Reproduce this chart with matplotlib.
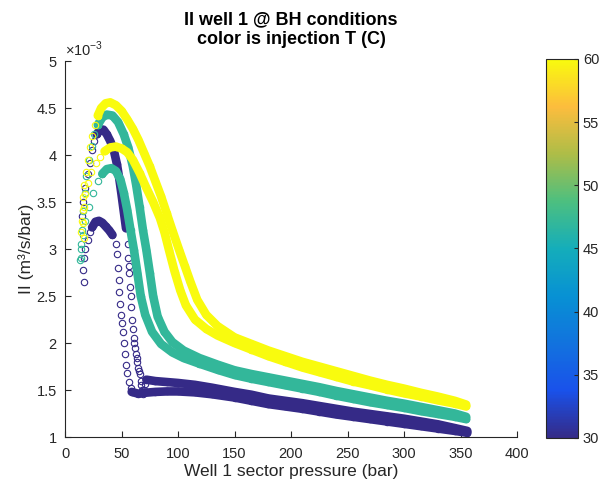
import matplotlib
matplotlib.use("Agg")
import matplotlib.pyplot as plt
from matplotlib.colors import LinearSegmentedColormap, Normalize
from matplotlib.cm import ScalarMappable

plt.rcParams['font.family'] = ['Liberation Sans', 'DejaVu Sans']
plt.rcParams['mathtext.fontset'] = 'custom'
plt.rcParams['mathtext.rm'] = 'Liberation Sans'

# injection temperatures (C)
t_blue = 30
t_teal = 47
t_yellow = 60

# --- T = 60, run A (higher peak) ---
ya_rise_x = [17, 16, 15.5, 16, 17, 18.5, 20, 22, 24, 26.5, 29]
ya_rise_y = [3.12, 3.28, 3.42, 3.55, 3.68, 3.82, 3.95, 4.08, 4.2, 4.32, 4.42]
ya_band_x = [29, 32, 36, 40, 45, 50, 55, 60, 65, 70, 75, 80, 85, 90, 95, 101, 106, 111, 117,
             125, 135, 150, 165, 180, 195, 210, 225, 240, 255, 270, 285, 300, 315, 330, 345, 355]
ya_band_y = [4.42, 4.5, 4.55, 4.56, 4.53, 4.47, 4.38, 4.28, 4.16, 4.02, 3.88, 3.72, 3.56, 3.38, 3.2,
             2.99, 2.82, 2.65, 2.46, 2.30, 2.18, 2.06, 1.99, 1.92, 1.86, 1.80, 1.75, 1.70, 1.65,
             1.60, 1.555, 1.515, 1.47, 1.43, 1.385, 1.345]

# --- T = 60, run B (lower peak) ---
yb_rise_x = [14, 15, 16.5, 18, 20, 23, 27, 31]
yb_rise_y = [3.18, 3.3, 3.45, 3.58, 3.7, 3.82, 3.92, 3.98]
yb_band_x = [35, 40, 45, 50, 55, 60, 66, 72, 78, 84, 88, 92, 97, 102, 107, 115, 125, 135, 150,
             165, 180, 195, 210, 225, 240, 255, 270, 285, 300, 315, 330, 345, 355]
yb_band_y = [4.04, 4.08, 4.09, 4.07, 4.03, 3.95, 3.81, 3.65, 3.5, 3.33, 3.18, 2.99, 2.76, 2.56,
             2.4, 2.25, 2.15, 2.08, 2.0, 1.93, 1.86, 1.80, 1.74, 1.69, 1.64, 1.59, 1.55, 1.505,
             1.465, 1.43, 1.39, 1.355, 1.325]

# --- T = 47, run A ---
ta_rise_x = [14, 14.5, 15, 16, 17.5, 19, 21, 23.5, 26, 29]
ta_rise_y = [2.9, 3.05, 3.2, 3.4, 3.6, 3.78, 3.95, 4.1, 4.22, 4.32]
ta_band_x = [29, 33, 37, 42, 47, 52, 56, 60, 63, 66, 69, 72, 75, 78, 82, 88, 95, 105, 119, 135,
             150, 165, 180, 195, 210, 225, 240, 255, 270, 285, 300, 315, 330, 345, 355]
ta_band_y = [4.32, 4.4, 4.43, 4.42, 4.35, 4.22, 4.08, 3.88, 3.68, 3.45, 3.2, 2.99, 2.75, 2.5,
             2.28, 2.12, 2.01, 1.92, 1.84, 1.77, 1.71, 1.67, 1.635, 1.60, 1.565, 1.53, 1.49,
             1.455, 1.42, 1.385, 1.355, 1.32, 1.285, 1.25, 1.215]

# --- T = 47, run B ---
tb_rise_x = [13, 14, 16, 18, 21, 25, 29, 33]
tb_rise_y = [2.88, 3.0, 3.15, 3.3, 3.45, 3.6, 3.72, 3.8]
tb_band_x = [33, 37, 41, 45, 49, 52, 55, 58, 61, 64, 67, 71, 77, 85, 95, 105, 119, 135, 150,
             165, 180, 195, 210, 225, 240, 255, 270, 285, 300, 315, 330, 345, 355]
tb_band_y = [3.8, 3.85, 3.86, 3.83, 3.74, 3.6, 3.42, 3.2, 2.99, 2.75, 2.5, 2.3, 2.12, 1.99,
             1.9, 1.84, 1.78, 1.715, 1.66, 1.62, 1.585, 1.55, 1.515, 1.48, 1.44, 1.405, 1.37,
             1.34, 1.31, 1.275, 1.245, 1.215, 1.19]

# --- T = 30, run A ---
ba_rise_x = [15, 16, 18, 20, 22, 24, 26, 28]
ba_rise_y = [3.35, 3.5, 3.65, 3.8, 3.92, 4.05, 4.15, 4.22]
ba_peak_x = [28, 31, 34, 37, 40, 43, 46, 48, 50, 52, 54]
ba_peak_y = [4.22, 4.27, 4.27, 4.22, 4.15, 4.06, 3.9, 3.75, 3.58, 3.4, 3.22]
ba_drop_x = [55.5, 56, 56.5, 57, 57.5, 58, 58.5, 59, 60, 61, 61.5, 62, 63, 63.5, 64, 65, 65.5,
             66, 67, 67.5, 68, 69, 70, 71]
ba_drop_y = [3.05, 2.9, 2.82, 2.75, 2.6, 2.5, 2.38, 2.25, 2.15, 2.05, 2.0, 1.95, 1.88, 1.84,
             1.8, 1.73, 1.7, 1.67, 1.6, 1.55, 1.5, 1.46, 1.5, 1.56]
ba_tail_x = [72, 80, 90, 100, 115, 130, 150, 165, 180, 195, 210, 225, 240, 255, 270, 285, 300,
             315, 330, 345, 356]
ba_tail_y = [1.61, 1.595, 1.585, 1.575, 1.555, 1.525, 1.48, 1.45, 1.41, 1.385, 1.36, 1.33, 1.30,
             1.27, 1.245, 1.22, 1.195, 1.165, 1.135, 1.095, 1.065]

# --- T = 30, run B ---
bb_rise_x = [16.5, 16, 17, 18, 20, 22]
bb_rise_y = [2.65, 2.78, 2.9, 3.0, 3.1, 3.18]
bb_peak_x = [24, 27, 30, 33, 36, 39, 42]
bb_peak_y = [3.23, 3.29, 3.3, 3.28, 3.24, 3.2, 3.15]
bb_drop_x = [45, 46, 47, 47.5, 48, 49, 49.5, 50, 51, 52, 53, 54, 55, 56.5, 58]
bb_drop_y = [3.05, 2.95, 2.8, 2.67, 2.54, 2.42, 2.3, 2.21, 2.12, 2.0, 1.88, 1.77, 1.68, 1.58,
             1.52]
bb_tail_x = [59, 65, 70, 80, 90, 100, 115, 130, 150, 165, 180, 195, 210, 225, 240, 255, 270,
             285, 300, 315, 330, 345, 356]
bb_tail_y = [1.48, 1.46, 1.47, 1.48, 1.485, 1.485, 1.475, 1.455, 1.42, 1.385, 1.35, 1.325, 1.30,
             1.27, 1.24, 1.215, 1.19, 1.165, 1.14, 1.115, 1.09, 1.065, 1.045]

x_ticks = [0, 50, 100, 150, 200, 250, 300, 350, 400]
y_ticks = [1, 1.5, 2, 2.5, 3, 3.5, 4, 4.5, 5]
cbar_ticks = [30, 35, 40, 45, 50, 55, 60]

# MATLAB parula (approximation)
parula = LinearSegmentedColormap.from_list('parula', [
    (0.0, (0.2081, 0.1663, 0.5292)),
    (0.125, (0.10, 0.32, 0.92)),
    (0.25, (0.07, 0.45, 0.87)),
    (0.375, (0.03, 0.57, 0.83)),
    (0.5, (0.08, 0.68, 0.73)),
    (0.625, (0.30, 0.75, 0.50)),
    (0.75, (0.68, 0.74, 0.28)),
    (0.875, (0.99, 0.74, 0.24)),
    (1.0, (0.976, 0.983, 0.054)),
])
norm = Normalize(30, 60)

fig = plt.figure(figsize=(6.03, 4.83), dpi=100)
ax = fig.add_axes([0.1078, 0.0952, 0.7496, 0.7785])
txt = (0.15, 0.15, 0.15)


def sparse(x, y, t):
    ax.plot(x, y, 'o', mfc='none', mec=parula(norm(t)), ms=4.6, mew=0.8)


def band(x, y, t):
    c = parula(norm(t))
    ax.plot(x, y, '-', color=c, lw=6.2, solid_capstyle='round', solid_joinstyle='round')
    ax.plot(x, y, 'o', mfc='none', mec=c, ms=4.6, mew=0.8)


sparse(bb_rise_x, bb_rise_y, t_blue)
band(bb_peak_x, bb_peak_y, t_blue)
sparse(bb_drop_x, bb_drop_y, t_blue)
band(bb_tail_x, bb_tail_y, t_blue)
sparse(ba_rise_x, ba_rise_y, t_blue)
band(ba_peak_x, ba_peak_y, t_blue)
sparse(ba_drop_x, ba_drop_y, t_blue)
band(ba_tail_x, ba_tail_y, t_blue)

sparse(tb_rise_x, tb_rise_y, t_teal)
band(tb_band_x, tb_band_y, t_teal)
sparse(ta_rise_x, ta_rise_y, t_teal)
band(ta_band_x, ta_band_y, t_teal)

sparse(yb_rise_x, yb_rise_y, t_yellow)
band(yb_band_x, yb_band_y, t_yellow)
sparse(ya_rise_x, ya_rise_y, t_yellow)
band(ya_band_x, ya_band_y, t_yellow)

ax.set_xlim(0, 400)
ax.set_ylim(1, 5)
ax.set_xticks(x_ticks)
ax.set_yticks(y_ticks)
ax.set_yticklabels([('%g' % v) for v in y_ticks])
for s in ['top', 'right']:
    ax.spines[s].set_visible(False)
for s in ['left', 'bottom']:
    ax.spines[s].set_color(txt)
    ax.spines[s].set_linewidth(0.8)
ax.tick_params(direction='in', length=4, width=0.8, color=txt, labelcolor=txt, labelsize=10.5)
ax.tick_params(axis='x', pad=7)
ax.tick_params(axis='y', pad=6)
ax.set_xlabel('Well 1 sector pressure (bar)', fontsize=12.5, color=txt, labelpad=2)
ax.set_ylabel('II (m³/s/bar)', fontsize=12.5, color=txt, labelpad=2)
ax.text(0.0, 1.004, r'$\times10^{-3}$', transform=ax.transAxes, fontsize=10.5,
        color=txt, ha='left', va='bottom')
ax.set_title('II well 1 @ BH conditions\ncolor is injection T (C)', fontsize=13,
             fontweight='bold', pad=12, linespacing=1.25)

cax = fig.add_axes([0.9055, 0.0932, 0.0531, 0.7847])
sm = ScalarMappable(norm=norm, cmap=parula)
cb = fig.colorbar(sm, cax=cax, ticks=cbar_ticks)
cb.outline.set_edgecolor(txt)
cb.outline.set_linewidth(0.8)
cax.tick_params(direction='in', length=3, width=0.8, color=txt, labelcolor=txt, labelsize=10.5)

fig.savefig('out.png', dpi=100)
